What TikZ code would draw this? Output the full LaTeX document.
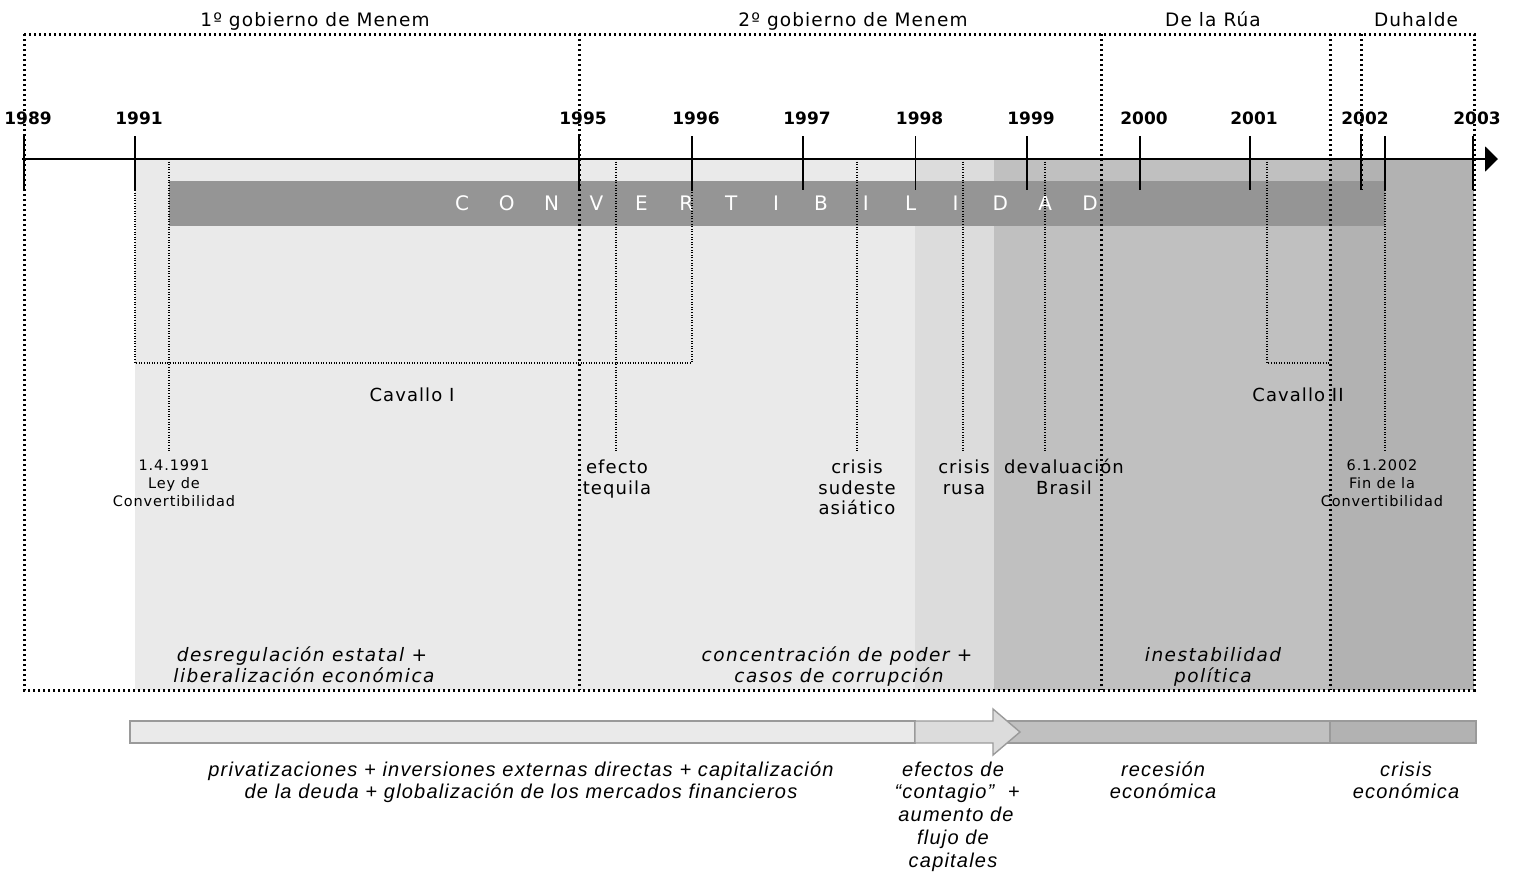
\documentclass[tikz,border=0pt]{standalone}
\usepackage{fontspec}
\setmainfont{DejaVu Sans}
\newfontfamily\lblfont{DejaVu Sans}[LetterSpace=6]
\newfontfamily\itlfont{DejaVu Sans}[LetterSpace=8]
\newfontfamily\btmfont{Liberation Sans}[LetterSpace=6]
\usetikzlibrary{arrows.meta}
\definecolor{gA}{HTML}{EAEAEA}
\definecolor{gB}{HTML}{DCDCDC}
\definecolor{gC}{HTML}{C0C0C0}
\definecolor{gD}{HTML}{B2B2B2}
\definecolor{gBar}{HTML}{959595}
\definecolor{gEdge}{HTML}{9A9A9A}
\begin{document}
\begin{tikzpicture}[x=1pt,y=-1pt,
  thickdot/.style={line width=3pt, dash pattern=on 2.2pt off 2.8pt},
  thindot/.style={line width=1.1pt, dash pattern=on 1pt off 1.6pt},
  tickline/.style={line width=1.7pt},
  year/.style={font=\bfseries\fontsize{17}{20}\selectfont, anchor=base, inner sep=0pt},
  gov/.style={font=\lblfont\fontsize{18.5}{22}\selectfont, anchor=base, inner sep=0pt},
  ev/.style={font=\lblfont\fontsize{18}{21}\selectfont, anchor=base, inner sep=0pt},
  smalllbl/.style={font=\lblfont\fontsize{14.5}{17}\selectfont, anchor=base, inner sep=0pt},
  itl/.style={font=\itlfont\itshape\fontsize{18.5}{21}\selectfont, anchor=base, inner sep=0pt},
  btm/.style={font=\btmfont\itshape\fontsize{20}{23}\selectfont, anchor=base, inner sep=0pt},
  conv/.style={font=\fontsize{20}{24}\selectfont, text=white, anchor=base, inner sep=0pt},
  barseg/.style={draw=gEdge, line width=1.4pt}
]
\useasboundingbox (0,0) rectangle (1521,873);

% background period regions
\fill[gA] (135,159) rectangle (915,690);
\fill[gB] (915,159) rectangle (994,690);
\fill[gC] (994,159) rectangle (1330,690);
\fill[gD] (1330,159) rectangle (1474,690);

% convertibilidad bar
\fill[gBar] (169,181) rectangle (1385,226);
\foreach \l [count=\i] in {C,O,N,V,E,R,T,I,B,I,L,I,D,A,D}
  \node[conv] (cv\i) at ({462+(\i-1)*44.86},210) {\l};

% thin dotted event lines and brackets
\coordinate (e1t) at (169,159); \coordinate (e1b) at (169,451);
\coordinate (e2t) at (616,159); \coordinate (e2b) at (616,451);
\coordinate (e3t) at (857,159); \coordinate (e3b) at (857,451);
\coordinate (e4t) at (963,159); \coordinate (e4b) at (963,451);
\coordinate (e5t) at (1045,159); \coordinate (e5b) at (1045,451);
\coordinate (e6t) at (1385,190); \coordinate (e6b) at (1385,451);
\foreach \n in {1,...,6} \draw[thindot] (e\n t) -- (e\n b);
\coordinate (c1a) at (135,190); \coordinate (c1b) at (135,363);
\coordinate (c1c) at (692,363); \coordinate (c1d) at (692,190);
\draw[thindot] (c1a) -- (c1b) -- (c1c) -- (c1d);
\coordinate (c2a) at (1267,159); \coordinate (c2b) at (1267,363);
\coordinate (c2c) at (1330,363);
\draw[thindot] (c2a) -- (c2b) -- (c2c);

% axis
\coordinate (ax0) at (22,159); \coordinate (ax1) at (1498,159);
\draw[line width=2pt, -{Triangle[length=13pt,width=25pt]}] (ax0) -- (ax1);

% ticks and years
\foreach \x/\yr in {24/1989,135/1991,579/1995,692/1996,803/1997,915.6/1998,1027/1999,1140/2000,1250/2001,1361/2002,1473/2003}{
  \draw[tickline] (\x,136) -- (\x,190);
  \node[year] (y\yr) at ({\x+4},124) {\yr};
}
\draw[tickline] (1385,136) -- (1385,190);

% thick dotted frame
\coordinate (f1) at (24,34); \coordinate (f2) at (1474,34);
\coordinate (f3) at (1474,690); \coordinate (f4) at (24,690);
\draw[thickdot] (f1) -- (f2) -- (f3) -- (f4) -- cycle;
\foreach \x in {579,1101,1330} \draw[thickdot] (\x,34) -- (\x,690);
\draw[thickdot] (1361,34) -- (1361,190);

% government labels
\node[gov] (g1) at (315,26) {1º gobierno de Menem};
\node[gov] (g2) at (853,26) {2º gobierno de Menem};
\node[gov] (g3) at (1213,26) {De la Rúa};
\node[gov] (g4) at (1416,26) {Duhalde};

% Cavallo
\node[ev] (cav1) at (412,401) {Cavallo I};
\node[ev] (cav2) at (1298,401) {Cavallo II};

% event labels
\node[smalllbl] (ley1) at (174,470) {1.4.1991};
\node[smalllbl] (ley2) at (174,488) {Ley de};
\node[smalllbl] (ley3) at (174,506) {Convertibilidad};
\node[smalllbl] (fin1) at (1382,470) {6.1.2002};
\node[smalllbl] (fin2) at (1382,488) {Fin de la};
\node[smalllbl] (fin3) at (1382,506) {Convertibilidad};
\node[ev] (teq1) at (617,473) {efecto};
\node[ev] (teq2) at (617,494) {tequila};
\node[ev] (asi1) at (857,473) {crisis};
\node[ev] (asi2) at (857,494) {sudeste};
\node[ev] (asi3) at (857,514) {asiático};
\node[ev] (rus1) at (964,473) {crisis};
\node[ev] (rus2) at (964,494) {rusa};
\node[ev] (bra1) at (1064,473) {devaluación};
\node[ev] (bra2) at (1064,494) {Brasil};

% italic period labels
\node[itl] (p1a) at (302,661) {desregulación estatal +};
\node[itl] (p1b) at (304,682) {liberalización económica};
\node[itl] (p2a) at (837,661) {concentración de poder +};
\node[itl] (p2b) at (839,682) {casos de corrupción};
\node[itl] (p3a) at (1213,661) {inestabilidad};
\node[itl] (p3b) at (1213,682) {política};

% bottom bar
\fill[gC] (993,721) rectangle (1330,743);
\draw[barseg, fill=gD] (1330,721) rectangle (1476,743);
\draw[barseg] (993,721) -- (1330,721) -- (1330,743) -- (993,743);
\draw[barseg, fill=gA] (130,721) rectangle (915,743);
\draw[barseg, fill=gB, line join=miter] (915,721) -- (993,721) -- (993,709) -- (1020,732) -- (993,755) -- (993,743) -- (915,743) -- cycle;

% bottom labels
\node[btm] (b1a) at (521,776) {privatizaciones + inversiones externas directas + capitalización};
\node[btm] (b1b) at (521,798) {de la deuda + globalización de los mercados financieros};
\node[btm] (b2a) at (953,776) {efectos de};
\node[btm] (b2b) at (957,798) {“contagio”\ \ +};
\node[btm] (b2c) at (956,821) {aumento de};
\node[btm] (b2d) at (953,844) {flujo de};
\node[btm] (b2e) at (953,867) {capitales};
\node[btm] (b3a) at (1163,776) {recesión};
\node[btm] (b3b) at (1163,798) {económica};
\node[btm] (b4a) at (1406,776) {crisis};
\node[btm] (b4b) at (1406,798) {económica};
\end{tikzpicture}
\end{document}
